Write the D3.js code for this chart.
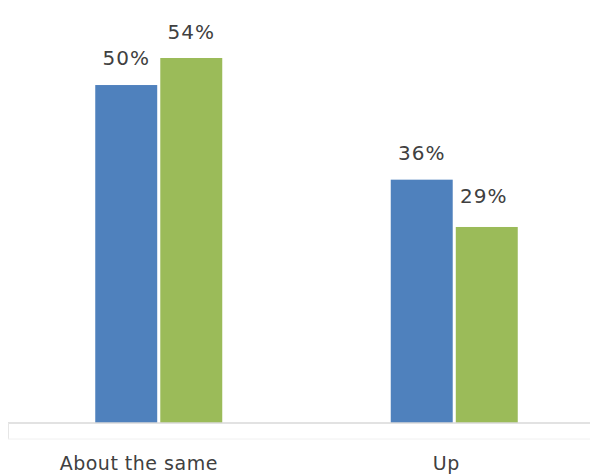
<!DOCTYPE html>
<html><head><meta charset="utf-8">
<script src="https://cdn.jsdelivr.net/npm/d3@7"></script>
<style>body{margin:0;background:#fff}svg{display:block}</style>
</head><body>
<svg id="c" width="590" height="474"></svg>
<script>
const categories = ["About the same", "Up"];
const seriesNames = ["Series A", "Series B"];
const seriesA = [50, 36];
const seriesB = [54, 29];
const colors = ["#4f81bd", "#9bbb59"];

const svg = d3.select("#c");
const baseY = 423;
const x = d3.scaleBand().domain(categories).range([11, 602]).paddingInner(0).paddingOuter(0);
const y = d3.scaleLinear().domain([0, 54]).range([baseY, 58]);
const barW = 62, gap = 3;
const sx = d3.scaleBand().domain(seriesNames).range([-(barW + gap/2), barW + gap/2]).paddingInner(gap/(barW*2+gap)*2);

const data = [seriesA, seriesB];
const labelDx = [[0, 0], [0, -3]];
const labelDy = [[-20, -20], [-19, -24]];
const g = svg.append("g");
data.forEach((vals, si) => {
  g.selectAll(".b" + si).data(categories).enter().append("rect")
    .attr("x", c => x(c) + x.bandwidth()/2 + sx(seriesNames[si]))
    .attr("width", sx.bandwidth())
    .attr("y", (c, i) => y(vals[i]))
    .attr("height", (c, i) => baseY - y(vals[i]))
    .attr("fill", colors[si]);
  g.selectAll(".l" + si).data(categories).enter().append("text")
    .attr("x", (c, i) => x(c) + x.bandwidth()/2 + sx(seriesNames[si]) + sx.bandwidth()/2 + labelDx[si][i])
    .attr("y", (c, i) => y(vals[i]) + labelDy[si][i])
    .attr("text-anchor", "middle")
    .attr("font-family", "DejaVu Sans, sans-serif")
    .attr("font-size", 20)
    .attr("letter-spacing", 1)
    .attr("fill", "#404040")
    .text((c, i) => vals[i] + "%");
});

// axis
const axis = d3.axisBottom(x).tickSize(0).tickFormat(() => "");
const ag = svg.append("g").attr("transform", `translate(0,${baseY})`).call(axis);
ag.select(".domain").remove();
ag.append("line").attr("x1", 8).attr("x2", 590).attr("stroke", "#d9d9d9").attr("stroke-width", 1.5);
ag.append("line").attr("x1", 8.5).attr("x2", 8.5).attr("y1", 0).attr("y2", 16).attr("stroke", "#e6e6e6");
ag.append("line").attr("x1", 8).attr("x2", 590).attr("y1", 16).attr("y2", 16).attr("stroke", "#f0f0f0");

const labelOffsets = [-20, -8];
svg.selectAll(".cat").data(categories).enter().append("text")
  .attr("x", (c, i) => x(c) + x.bandwidth()/2 + labelOffsets[i])
  .attr("y", 470)
  .attr("text-anchor", "middle")
  .attr("font-family", "DejaVu Sans, sans-serif")
  .attr("font-size", 19)
  .attr("letter-spacing", 0.5)
  .attr("fill", "#404040")
  .text(c => c);
</script>
</body></html>
